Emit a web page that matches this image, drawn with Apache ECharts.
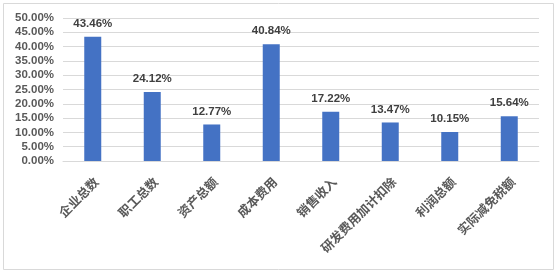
<!DOCTYPE html>
<html>
<head>
<meta charset="utf-8">
<script src="https://cdn.jsdelivr.net/npm/echarts@6/dist/echarts.min.js"></script>
<style>
  html, body { margin: 0; padding: 0; background: #fff; }
  #chart { width: 558px; height: 275px; }
</style>
</head>
<body>
<div id="chart"></div>
<script>
var categories = ['企业总数', '职工总数', '资产总额', '成本费用', '销售收入', '研发费用加计扣除', '利润总额', '实际减免税额'];
var values = [43.46, 24.12, 12.77, 40.84, 17.22, 13.47, 10.15, 15.64];

var chart = echarts.init(document.getElementById('chart'));
var option = {
  animation: false,
  graphic: [{
    type: 'rect',
    shape: { x: 3.5, y: 3.5, width: 550, height: 266 },
    style: { fill: 'none', stroke: '#d9d9d9', lineWidth: 1 }
  }],
  grid: { left: 63, right: 19, top: 18, bottom: 114 },
  xAxis: {
    type: 'category',
    data: categories,
    axisTick: { show: false },
    axisLine: { lineStyle: { color: '#d9d9d9' } },
    axisLabel: {
      rotate: 45,
      interval: 0,
      margin: 22,
      padding: [0, -5, 0, 0],
      color: '#595959',
      fontSize: 12.5,
      fontFamily: 'Noto Sans CJK SC',
      fontWeight: 'bold'
    }
  },
  yAxis: {
    type: 'value',
    min: 0,
    max: 50,
    interval: 5,
    axisLine: { show: false },
    axisTick: { show: false },
    splitLine: { lineStyle: { color: '#d9d9d9' } },
    axisLabel: {
      margin: 9,
      color: '#595959',
      fontSize: 11.5,
      fontWeight: 'bold',
      fontFamily: 'Liberation Sans',
      formatter: function (v) { return v.toFixed(2) + '%'; }
    }
  },
  series: [{
    type: 'bar',
    data: values,
    barWidth: 17,
    itemStyle: { color: '#4472c4' },
    label: {
      show: true,
      position: 'top',
      distance: 7,
      color: '#404040',
      fontSize: 11.5,
      fontWeight: 'bold',
      fontFamily: 'Liberation Sans',
      formatter: function (p) { return p.value.toFixed(2) + '%'; }
    }
  }]
};
chart.setOption(option);
</script>
</body>
</html>
